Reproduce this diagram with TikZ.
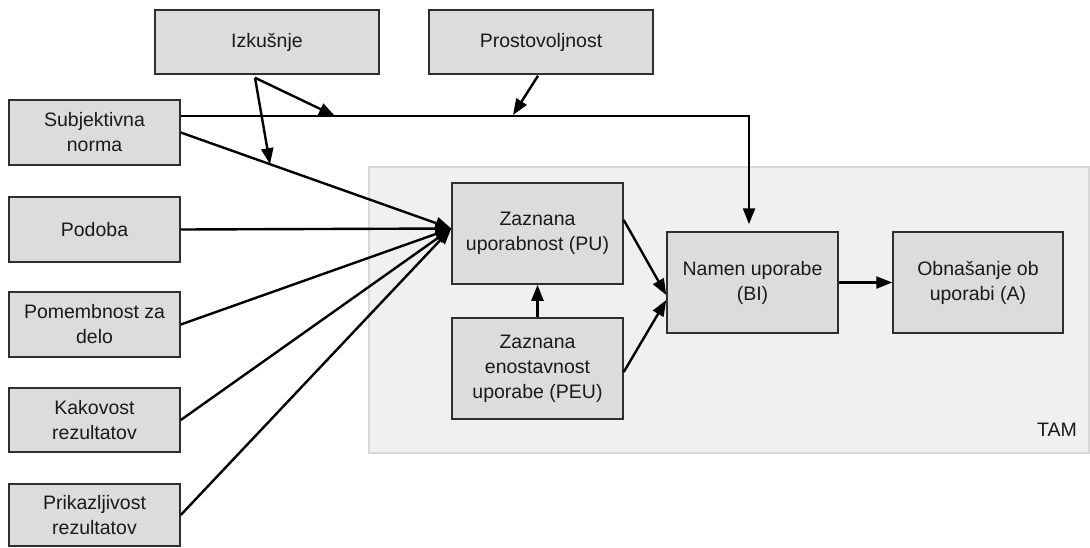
\documentclass[tikz,border=0pt]{standalone}
\usepackage{fontspec}
\setmainfont{Liberation Sans}
\usetikzlibrary{arrows.meta,calc}
\definecolor{boxfill}{HTML}{DCDCDC}
\definecolor{boxline}{HTML}{2E2E2E}
\definecolor{tamfill}{HTML}{F0F0F0}
\definecolor{tamline}{HTML}{D8D8D8}
\definecolor{txt}{HTML}{1A1A1A}
\begin{document}
\begin{tikzpicture}[x=1pt,y=-1pt,
  box/.style={draw=boxline,line width=1.5pt,fill=boxfill,rectangle,align=center,
    text=txt,inner sep=0pt,font=\fontsize{19.5}{25}\selectfont},
  leftbox/.style={box,minimum width=171pt,minimum height=65pt},
  topbox/.style={box,minimum width=224pt,minimum height=64pt},
  tambox/.style={box,minimum width=171pt,minimum height=101pt},
  arr/.style={line width=2.4pt,-{Triangle[length=16pt,width=12pt]}}]
\useasboundingbox (0,0) rectangle (1090,547);
% TAM region
\fill[tamfill,draw=tamline,line width=2pt] (369,167) rectangle (1089,453);
\node[text=txt,font=\fontsize{19.5}{25}\selectfont] (tamlbl) at (1057,430) {TAM};
% top boxes
\node[topbox] (izk) at (267,42) {Izkušnje};
\node[topbox] (pro) at (541,42) {Prostovoljnost};
% left boxes
\node[leftbox] (sn)  at (94.5,132.5) {Subjektivna\\norma};
\node[leftbox] (pod) at (94.5,229.5) {Podoba};
\node[leftbox] (pom) at (94.5,324.5) {Pomembnost za\\delo};
\node[leftbox,minimum height=64pt] (kak) at (94.5,420) {Kakovost\\rezultatov};
\node[leftbox,minimum height=62pt] (pri) at (94.5,515) {Prikazljivost\\rezultatov};
% TAM boxes
\node[tambox] (pu)  at (537.5,233.5) {Zaznana\\uporabnost (PU)};
\node[tambox] (peu) at (537.5,368.5) {Zaznana\\enostavnost\\uporabe (PEU)};
\node[tambox] (bi)  at (752.5,282.5) {Namen uporabe\\(BI)};
\node[tambox,minimum width=170pt] (a) at (978,282.5) {Obnašanje ob\\uporabi (A)};
% coordinates
\coordinate (puin) at ([yshift=5pt]pu.west);
\coordinate (j1) at (335,116);
\coordinate (j2) at ($(sn.east)!0.33!(puin)$);
\coordinate (j3) at (513,115);
% arrows into PU
\draw[arr] (sn.east) -- (puin);
\draw[arr] (pod.east) -- (puin);
\draw[arr] (pom.east) -- (puin);
\draw[arr] (kak.east) -- (puin);
\draw[arr] (pri.east) -- (puin);
% subjective norm to BI
\draw[arr] ([yshift=16.5pt]sn.east) -| ([xshift=-3.5pt,yshift=7pt]bi.north);
% moderators
\draw[arr] ([xshift=-12pt,yshift=-3pt]izk.south) -- (j1);
\draw[arr] ([xshift=-12pt,yshift=-3pt]izk.south) -- (j2);
\draw[arr] ([xshift=-3pt,yshift=-1pt]pro.south) -- (j3);
% TAM core
\draw[arr] (peu.north) -- (pu.south);
\draw[arr] ([yshift=13.5pt]pu.east) -- ([yshift=-12.5pt]bi.west);
\draw[arr] ([yshift=-3.5pt]peu.east) -- ([yshift=-17.5pt]bi.west);
\draw[arr] (bi.east) -- (a.west);
\end{tikzpicture}
\end{document}
